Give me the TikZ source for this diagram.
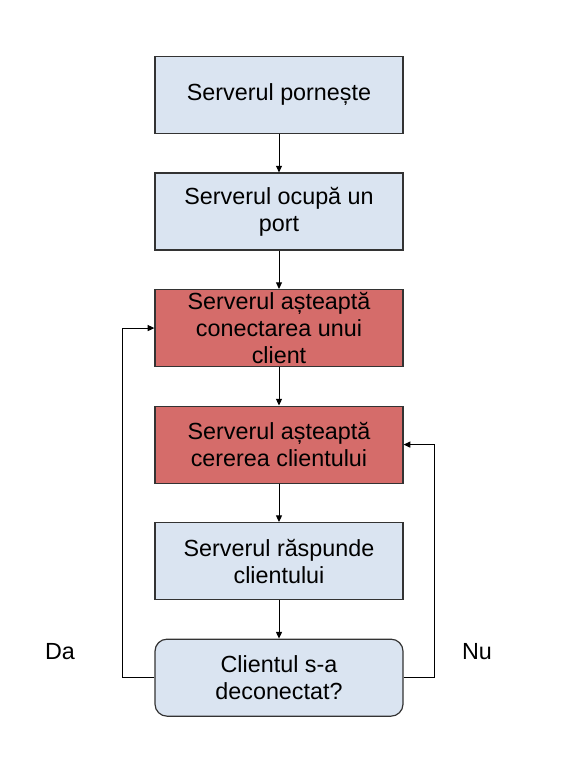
\documentclass[tikz,border=0pt]{standalone}
\usepackage{fontspec}
\setmainfont{Liberation Sans}
\usetikzlibrary{arrows.meta, positioning}
\definecolor{boxblue}{HTML}{DAE4F1}
\definecolor{boxred}{HTML}{D56C6A}
\definecolor{edgegray}{HTML}{333333}

\begin{document}
\begin{tikzpicture}[x=0.75pt, y=-0.75pt, node distance=87.4pt, on grid,
    stepbox/.style={draw=edgegray, line width=0.9pt, rectangle, fill=boxblue, minimum width=186pt, minimum height=57.75pt, inner ysep=0pt, align=center, font=\fontsize{17.5pt}{20.3pt}\selectfont},
    waitbox/.style={stepbox, fill=boxred},
    askbox/.style={stepbox, rounded corners=9pt},
    lbl/.style={font=\fontsize{17.5pt}{20.6pt}\selectfont},
    arr/.style={-{Triangle[length=5pt, width=4.5pt]}, line width=0.75pt}]
    \useasboundingbox (0,0) rectangle (568,784);

    \node[stepbox] (start) at (279,95) {Serverul pornește};
    \node[stepbox, below=of start] (port) {Serverul ocupă un\\port};
    \node[waitbox, below=of port] (conn) {Serverul așteaptă\\conectarea unui\\client};
    \node[waitbox, below=of conn] (req) {Serverul așteaptă\\cererea clientului};
    \node[stepbox, below=of req] (resp) {Serverul răspunde\\clientului};
    \node[askbox, below=of resp] (quit) {Clientul s-a\\deconectat?};

    \node[lbl] (da) at (60,652) {Da};
    \node[lbl] (nu) at (477,652) {Nu};

    \draw[arr] (start) -- (port);
    \draw[arr] (port) -- (conn);
    \draw[arr] (conn) -- (req);
    \draw[arr] (req) -- (resp);
    \draw[arr] (resp) -- (quit);

    % bucla Da / Nu
    \draw[arr] (quit.west) -- ++(-32,0) |- (conn.west);
    \draw[arr] (quit.east) -- ++(31,0) |- (req.east);
\end{tikzpicture}
\end{document}
